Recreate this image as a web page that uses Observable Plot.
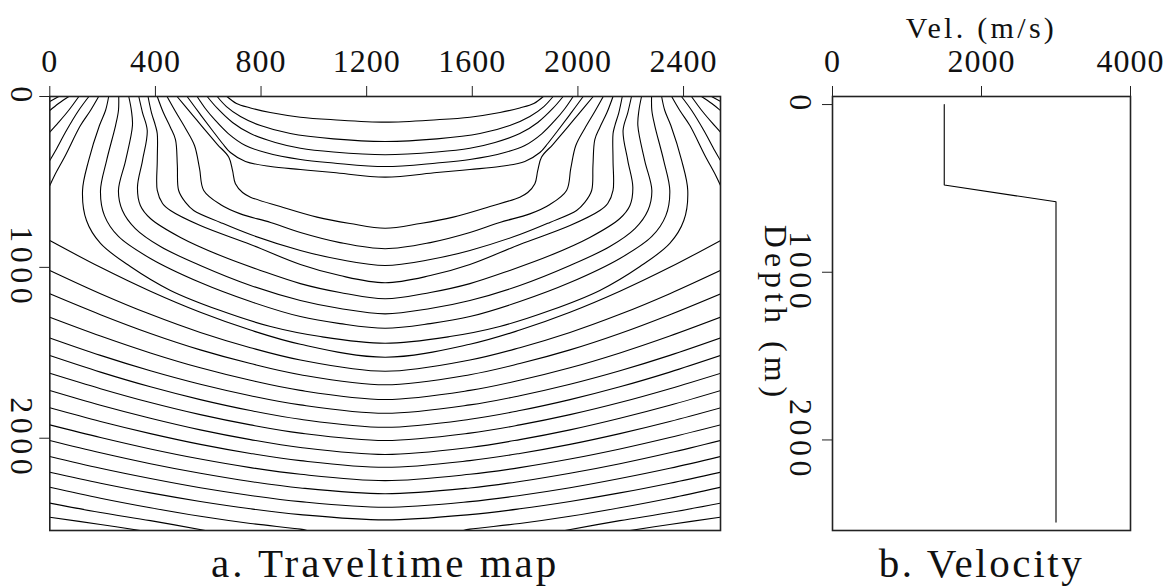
<!DOCTYPE html>
<html>
<head>
<meta charset="utf-8">
<script src="https://cdn.jsdelivr.net/npm/d3@7"></script>
<script src="https://cdn.jsdelivr.net/npm/@observablehq/plot@0.6"></script>
<style>
  html, body { margin: 0; padding: 0; background: #fff; }
  #wrap { position: relative; width: 1172px; height: 588px; overflow: hidden; background: #fff; }
  #wrap svg { position: absolute; top: 0; overflow: visible; }
  [aria-label="x-axis tick label"] text { letter-spacing: 1px; }
  [aria-label="y-axis tick label"] text { letter-spacing: 4.5px; }
</style>
</head>
<body>
<div id="wrap"></div>
<script>
// ---------------- data ----------------
const xTicksMap = [0, 400, 800, 1200, 1600, 2000, 2400];
const zTicks = [0, 1000, 2000];
const velTicks = [0, 2000, 4000];
const mapExtent = [0, 2540];          // midpoints / depth (m)
const sourceX = 1270;                 // symmetry axis of the traveltime map (m)

// velocity profile (panel b)
const velDepth = [0, 480, 580, 2490];
const velValue = [1500, 1500, 3000, 3000];

// traveltime contours, left half of the map, [x (m), depth (m)];
// the right half is the mirror image about sourceX
const contours = [
  [[671,0],[707,41],[760,67],[835,94],[949,121],[1074,136],[1270,150]],
  [[634,0],[669,59],[722,117],[798,170],[911,217],[1074,248],[1270,263]],
  [[596,0],[635,70],[692,152],[760,217],[854,269],[949,303],[1074,325],[1270,341]],
  [[558,0],[589,70],[627,140],[676,217],[741,287],[817,328],[949,369],[1074,389],[1270,410]],
  [[520,0],[570,105],[616,199],[654,275],[684,328],[741,380],[836,410],[949,427],[1074,445],[1270,472]],
  [[482,0],[533,94],[586,193],[635,281],[678,355],[692,433],[703,511],[730,562],[760,589],[873,644],[1012,706],[1137,743],[1270,771]],
  [[444,0],[476,88],[514,187],[548,287],[567,421],[583,550],[646,632],[722,687],[836,737],[949,796],[1099,855],[1270,891]],
  [[407,0],[430,94],[457,181],[476,252],[483,404],[488,550],[514,620],[545,667],[646,737],[760,808],[949,901],[1099,954],[1270,989]],
  [[372,0],[385,94],[400,170],[407,218],[407,375],[407,550],[427,626],[457,667],[570,755],[760,866],[949,983],[1099,1048],[1270,1090]],
  [[337,0],[351,94],[369,199],[351,375],[332,531],[343,638],[381,714],[495,825],[646,931],[798,1018],[949,1095],[1099,1147],[1270,1184]],
  [[299,0],[309,82],[313,170],[287,375],[260,550],[275,667],[324,773],[419,878],[570,989],[760,1106],[949,1194],[1099,1241],[1270,1272]],
  [[261,0],[260,82],[249,170],[215,375],[192,550],[207,697],[260,819],[381,948],[570,1089],[760,1200],[949,1288],[1099,1329],[1270,1356]],
  [[223,0],[211,82],[188,170],[147,375],[124,550],[139,726],[192,860],[305,995],[457,1135],[646,1253],[836,1346],[1025,1405],[1270,1444]],
  [[185,0],[154,82],[116,170],[59,345],[18,462],[0,521]],
  [[148,0],[109,82],[63,199],[22,316],[0,375]],
  [[110,0],[71,82],[33,152],[0,209]],
  [[72,0],[33,41],[0,82]],
  [[34,0],[0,29]],
  [[0,843],[192,1000],[381,1140],[570,1263],[760,1367],[949,1450],[1270,1526]],
  [[0,1018],[192,1154],[381,1275],[570,1381],[760,1470],[949,1542],[1270,1608]],
  [[0,1155],[192,1277],[381,1387],[570,1483],[760,1563],[949,1628],[1270,1687]],
  [[0,1292],[192,1402],[381,1501],[570,1588],[760,1661],[949,1720],[1270,1773]],
  [[0,1413],[192,1515],[381,1605],[570,1684],[760,1751],[949,1805],[1270,1854]],
  [[0,1516],[192,1613],[381,1699],[570,1774],[760,1838],[949,1889],[1270,1936]],
  [[0,1620],[192,1710],[381,1791],[570,1862],[760,1922],[949,1970],[1270,2013]],
  [[0,1721],[192,1807],[381,1883],[570,1951],[760,2008],[949,2054],[1270,2095]],
  [[0,1822],[192,1902],[381,1973],[570,2036],[760,2089],[949,2131],[1270,2170]],
  [[0,1922],[192,1996],[381,2063],[570,2122],[760,2172],[949,2211],[1270,2248]],
  [[0,2013],[192,2085],[381,2149],[570,2205],[760,2253],[949,2291],[1270,2325]],
  [[0,2107],[192,2176],[381,2236],[570,2290],[760,2335],[949,2371],[1270,2404]],
  [[0,2199],[192,2263],[381,2320],[570,2370],[760,2413],[949,2447],[1270,2478]],
  [[0,2287],[192,2351],[381,2407],[570,2457],[760,2499],[949,2532],[974,2540]],
  [[0,2380],[192,2435],[381,2482],[589,2540]],
  [[0,2462],[192,2505],[343,2540]]
];

const captionA = "a. Traveltime map";
const captionB = "b. Velocity";
const velLabel = "Vel. (m/s)";
const depthLabel = "Depth (m)";

// ---------------- build tables ----------------
const contourRows = [];
contours.forEach((pts, i) => {
  const last = pts[pts.length - 1];
  if (last[0] === sourceX) {
    const full = pts.concat(pts.slice(0, -1).reverse().map(([x, z]) => [2 * sourceX - x, z]));
    full.forEach(([x, z]) => contourRows.push({id: "c" + i, x, z}));
  } else {
    pts.forEach(([x, z]) => contourRows.push({id: "c" + i + "L", x, z}));
    pts.forEach(([x, z]) => contourRows.push({id: "c" + i + "R", x: 2 * sourceX - x, z}));
  }
});
const velRows = velDepth.map((d, i) => ({depth: d, vel: velValue[i]}));

const font = "Liberation Serif, Times New Roman, serif";
const wrap = document.getElementById("wrap");

// ---------------- panel a ----------------
const plotA = Plot.plot({
  width: 760, height: 588,
  marginLeft: 49.3, marginRight: 40, marginTop: 96, marginBottom: 58,
  style: {fontFamily: font, fontSize: "32px", background: "transparent", color: "#111"},
  x: {domain: mapExtent},
  y: {domain: mapExtent, reverse: true},
  marks: [
    Plot.line(contourRows, {x: "x", y: "z", z: "id", curve: "catmull-rom", stroke: "#000", strokeWidth: 1.1, clip: true}),
    Plot.frame({stroke: "#222", strokeWidth: 1.6}),
    Plot.axisX(xTicksMap, {anchor: "top", label: null, tickSize: 11, tickPadding: 14, fontSize: 32, tickFormat: d => String(d), stroke: "#222"}),
    Plot.axisY(zTicks, {anchor: "left", label: null, tickSize: 10, tickPadding: 6, tickRotate: 90, fontSize: 32, tickFormat: d => String(d), stroke: "#222"}),
    Plot.text([captionA], {frameAnchor: "bottom", dy: 33, fontSize: 41, textAnchor: "middle", lineAnchor: "middle", fill: "#111"})
  ]
});
plotA.style.left = "0px";
wrap.appendChild(plotA);

// ---------------- panel b ----------------
const plotB = Plot.plot({
  width: 412, height: 588,
  marginLeft: 72, marginRight: 42, marginTop: 96, marginBottom: 58,
  style: {fontFamily: font, fontSize: "32px", background: "transparent", color: "#111"},
  x: {domain: [0, 4000]},
  y: {domain: [-48, 2540], reverse: true},
  marks: [
    Plot.line(velRows, {x: "vel", y: "depth", stroke: "#000", strokeWidth: 1.1}),
    Plot.frame({stroke: "#222", strokeWidth: 1.6}),
    Plot.axisX(velTicks, {anchor: "top", label: null, tickSize: 11, tickPadding: 14, fontSize: 32, tickFormat: d => String(d), stroke: "#222"}),
    Plot.axisY(zTicks, {anchor: "left", label: null, tickSize: 10, tickPadding: 10, tickRotate: 90, fontSize: 32, tickFormat: d => String(d), stroke: "#222"}),
    Plot.text([velLabel], {frameAnchor: "top", dy: -68, fontSize: 30, textAnchor: "middle", lineAnchor: "middle", fill: "#111"}),
    Plot.text([depthLabel], {frameAnchor: "left", dx: -57, rotate: 90, fontSize: 32, textAnchor: "middle", lineAnchor: "middle", fill: "#111"}),
    Plot.text([captionB], {frameAnchor: "bottom", dy: 33, fontSize: 41, textAnchor: "middle", lineAnchor: "middle", fill: "#111"})
  ]
});
plotB.style.left = "760px";
wrap.appendChild(plotB);

// wider letter spacing, as in the original stroke font
const spacing = new Map([[captionA, "3px"], [captionB, "2.6px"], [velLabel, "3.3px"], [depthLabel, "5px"]]);
d3.selectAll("#wrap svg text").each(function () {
  const s = spacing.get(this.textContent);
  if (s) this.style.letterSpacing = s;
});
</script>
</body>
</html>
